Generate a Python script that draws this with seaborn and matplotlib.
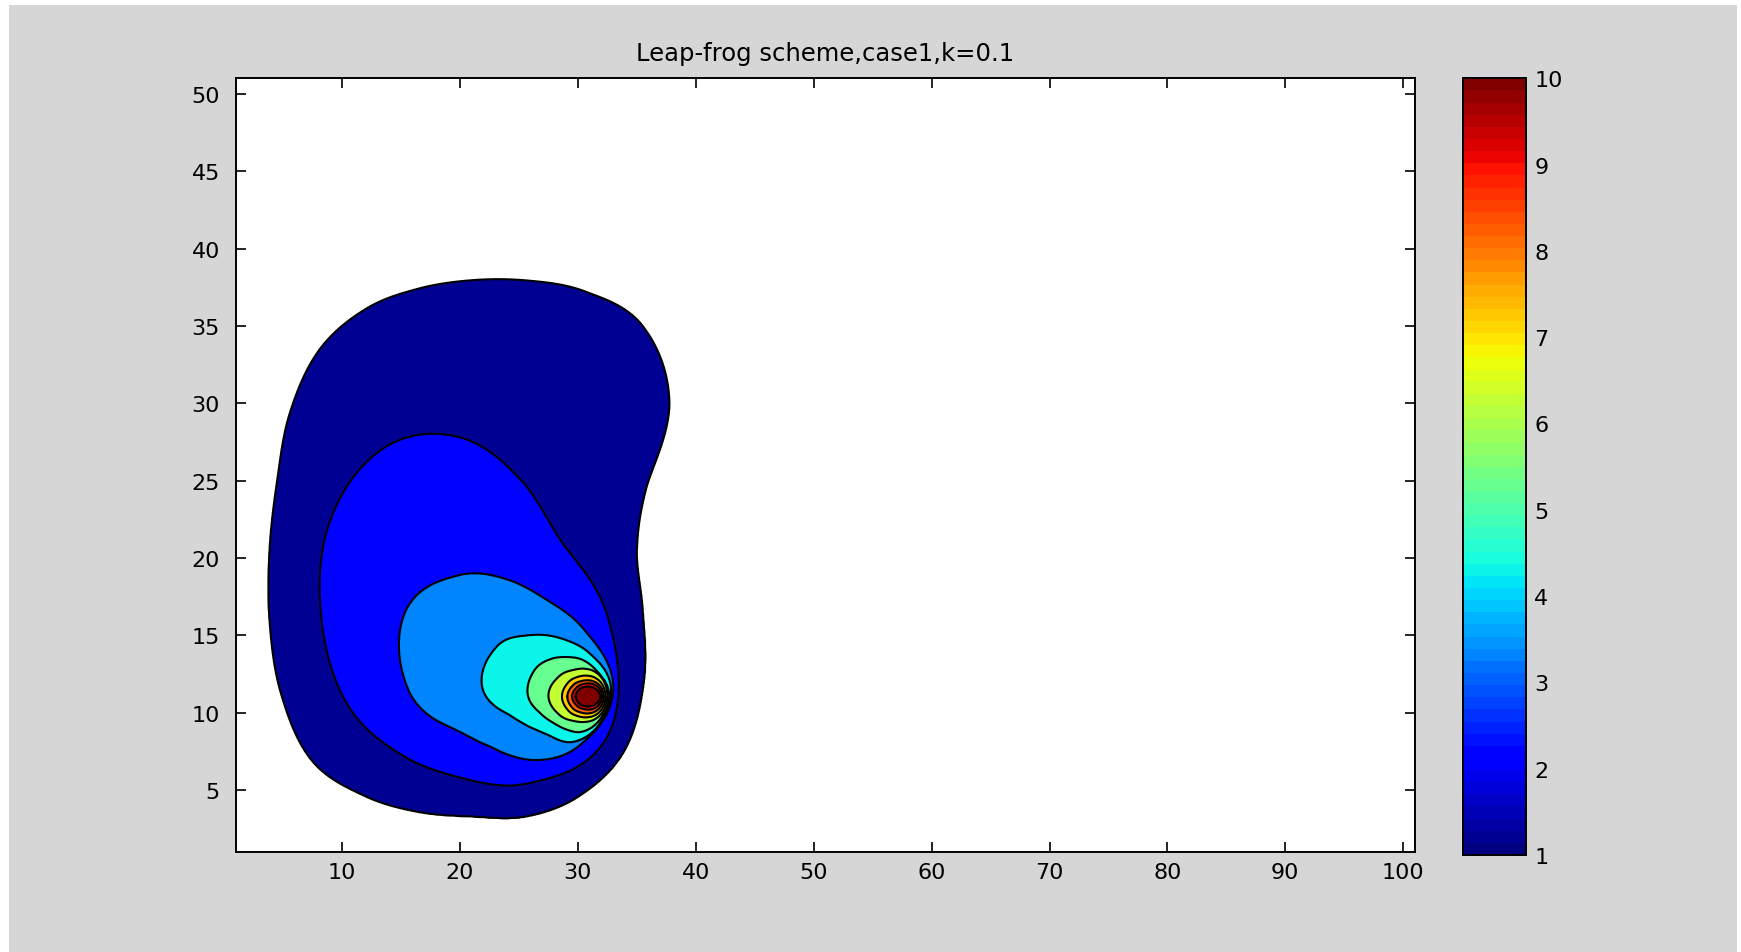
import numpy as np
import matplotlib
matplotlib.use("Agg")
import matplotlib.pyplot as plt
import matplotlib.cm as cm
from matplotlib.colors import ListedColormap, Normalize
from matplotlib.patches import Rectangle
import seaborn as sns

# ---------------- data ----------------
title_text = "Leap-frog scheme,case1,k=0.1"
level_values = [1, 2, 3, 4, 5, 6, 7, 8, 9, 10]
# each contour level outline: a centre and its radius at equally spaced angles
# (starting at +x, counter-clockwise)
center_x = [21.0, 20.0, 24.0, 27.5, 29.0, 30.5, 30.7, 30.8, 30.9, 30.8]
center_y = [20.5, 16.0, 11.5, 11.7, 11.2, 11.1, 11.05, 11.05, 11.05, 11.05]
radii_L1 = [14.0, 15.3, 19.35, 20.5, 19.3, 18.05, 17.45, 17.5, 18.0, 18.3, 17.8, 17.1,
            17.15, 17.75, 18.65, 19.2, 18.3, 17.5, 17.2, 17.8, 18.3, 18.3, 16.85, 15.0]
radii_L2 = [12.6, 10.0, 10.4, 11.8, 12.85, 12.75, 11.75, 11.0, 10.05, 10.2, 12.15, 14.6]
radii_L3 = [9.0, 7.62, 6.7, 7.12, 8.5, 10.0, 8.4, 5.15, 4.05, 4.2, 5.27, 7.15]
radii_L4 = [5.3, 4.15, 3.4, 3.3, 3.8, 5.1, 5.63, 3.75, 3.05, 3.15, 4.15, 4.95]
radii_L5 = [3.65, 3.0, 2.6, 2.4, 2.62, 3.1, 3.26, 2.5, 2.15, 2.28, 2.8, 3.3]
radii_L6 = [2.0, 1.95, 1.82, 1.75, 1.91, 2.46, 3.0, 2.43, 1.87, 1.7, 1.78, 1.93]
radii_L7 = [1.65, 1.57, 1.42, 1.35, 1.46, 1.78, 2.05, 1.78, 1.46, 1.35, 1.42, 1.57]
radii_L8 = [1.4, 1.29, 1.12, 1.05, 1.14, 1.43, 1.7, 1.47, 1.19, 1.1, 1.16, 1.31]
radii_L9 = [1.15, 1.05, 0.91, 0.85, 0.93, 1.17, 1.4, 1.17, 0.93, 0.85, 0.91, 1.05]
radii_L10 = [1.1, 0.91, 0.71, 0.65, 0.70, 0.86, 1.0, 0.86, 0.70, 0.65, 0.71, 0.91]
level_radii = [radii_L1, radii_L2, radii_L3, radii_L4, radii_L5,
               radii_L6, radii_L7, radii_L8, radii_L9, radii_L10]
x_ticks = [10, 20, 30, 40, 50, 60, 70, 80, 90, 100]
y_ticks = [5, 10, 15, 20, 25, 30, 35, 40, 45, 50]
cbar_ticks = [1, 2, 3, 4, 5, 6, 7, 8, 9, 10]
x_range = (1, 101)
y_range = (1, 51)

# ---------------- build the field from the level outlines ----------------
def outline_radius(theta, radii):
    r = np.asarray(radii, dtype=float)
    n = len(r)
    u = np.mod(theta, 2 * np.pi) / (2 * np.pi / n)
    i = np.floor(u).astype(int)
    t = u - i
    p0 = r[(i - 1) % n]; p1 = r[i % n]; p2 = r[(i + 1) % n]; p3 = r[(i + 2) % n]
    return 0.5 * (2 * p1 + (-p0 + p2) * t + (2 * p0 - 5 * p1 + 4 * p2 - p3) * t ** 2
                  + (-p0 + 3 * p1 - 3 * p2 + p3) * t ** 3)

gx = np.arange(1.0, 45.0001, 0.05)
gy = np.arange(1.0, 45.0001, 0.05)
X, Y = np.meshgrid(gx, gy)
nl = len(level_values)
rel = np.empty((nl,) + X.shape)
for j in range(nl):
    dx = X - center_x[j]
    dy = Y - center_y[j]
    rel[j] = np.hypot(dx, dy) / outline_radius(np.arctan2(dy, dx), level_radii[j])

k = np.zeros(X.shape, dtype=int)
for j in range(nl):
    k = np.where(rel[j] <= 1.0, j + 1, k)

Z = np.empty(X.shape)
out = k == 0
Z[out] = 2.0 - rel[0][out]
for j in range(1, nl):
    m = k == j
    rk = rel[j - 1][m]
    rn = rel[j][m]
    Z[m] = level_values[j - 1] + (1.0 - rk) / (rn - rk)
top = k == nl
Z[top] = level_values[-1] + (1.0 - rel[-1][top])

# ---------------- styling ----------------
sns.set_theme(style="white")
plt.rcParams["font.family"] = ["DejaVu Sans"]

jet64 = ListedColormap(plt.get_cmap("jet")(np.linspace(0, 1, 64)))
norm = Normalize(1, 10)
fill_colors = [jet64(norm(min(v + 0.25, 10))) for v in level_values]

W, H = 1741, 953
fig = plt.figure(figsize=(W / 100, H / 100), dpi=100, facecolor="#d6d6d6")
# white margins of the screenshot
fig.patches.append(Rectangle((0, 1 - 6 / H), 1, 6 / H, transform=fig.transFigure,
                             facecolor="white", edgecolor="none", zorder=-1))
fig.patches.append(Rectangle((0, 0), 9 / W, 1, transform=fig.transFigure,
                             facecolor="white", edgecolor="none", zorder=-1))
fig.patches.append(Rectangle((1 - 4 / W, 0), 4 / W, 1, transform=fig.transFigure,
                             facecolor="white", edgecolor="none", zorder=-1))

ax = fig.add_axes([236 / W, 1 - 853 / H, (1415 - 236) / W, (853 - 79.3) / H])
ax.set_facecolor("white")
levels_fill = list(level_values) + [level_values[-1] + 1.5]
ax.contourf(X, Y, Z, levels=levels_fill, colors=fill_colors)
ax.contour(X, Y, Z, levels=level_values, colors="black", linewidths=1.5)

ax.set_xlim(*x_range)
ax.set_ylim(*y_range)
ax.set_xticks(x_ticks)
ax.set_yticks(y_ticks)
ax.grid(False)
for s in ax.spines.values():
    s.set_color("black")
    s.set_linewidth(1.4)
ax.tick_params(axis="both", which="major", direction="in", length=7, width=1.2,
               colors="black", labelsize=16, top=True, right=True,
               bottom=True, left=True)
ax.tick_params(axis="x", pad=7)
ax.tick_params(axis="y", pad=11.5)
ax.set_title(title_text, fontsize=17.5, color="black", pad=13)

cax = fig.add_axes([1463 / W, 1 - 856 / H, (1526 - 1463) / W, (856 - 79.3) / H])
cb = fig.colorbar(cm.ScalarMappable(norm=norm, cmap=jet64), cax=cax, ticks=cbar_ticks)
cb.outline.set_linewidth(1.4)
cb.outline.set_edgecolor("black")
cax.tick_params(direction="in", left=True, right=True, labelleft=False, labelright=True,
                length=8.5, width=1.2, colors="black", labelsize=16, pad=6)

fig.savefig("out.png", dpi=100, facecolor=fig.get_facecolor())
